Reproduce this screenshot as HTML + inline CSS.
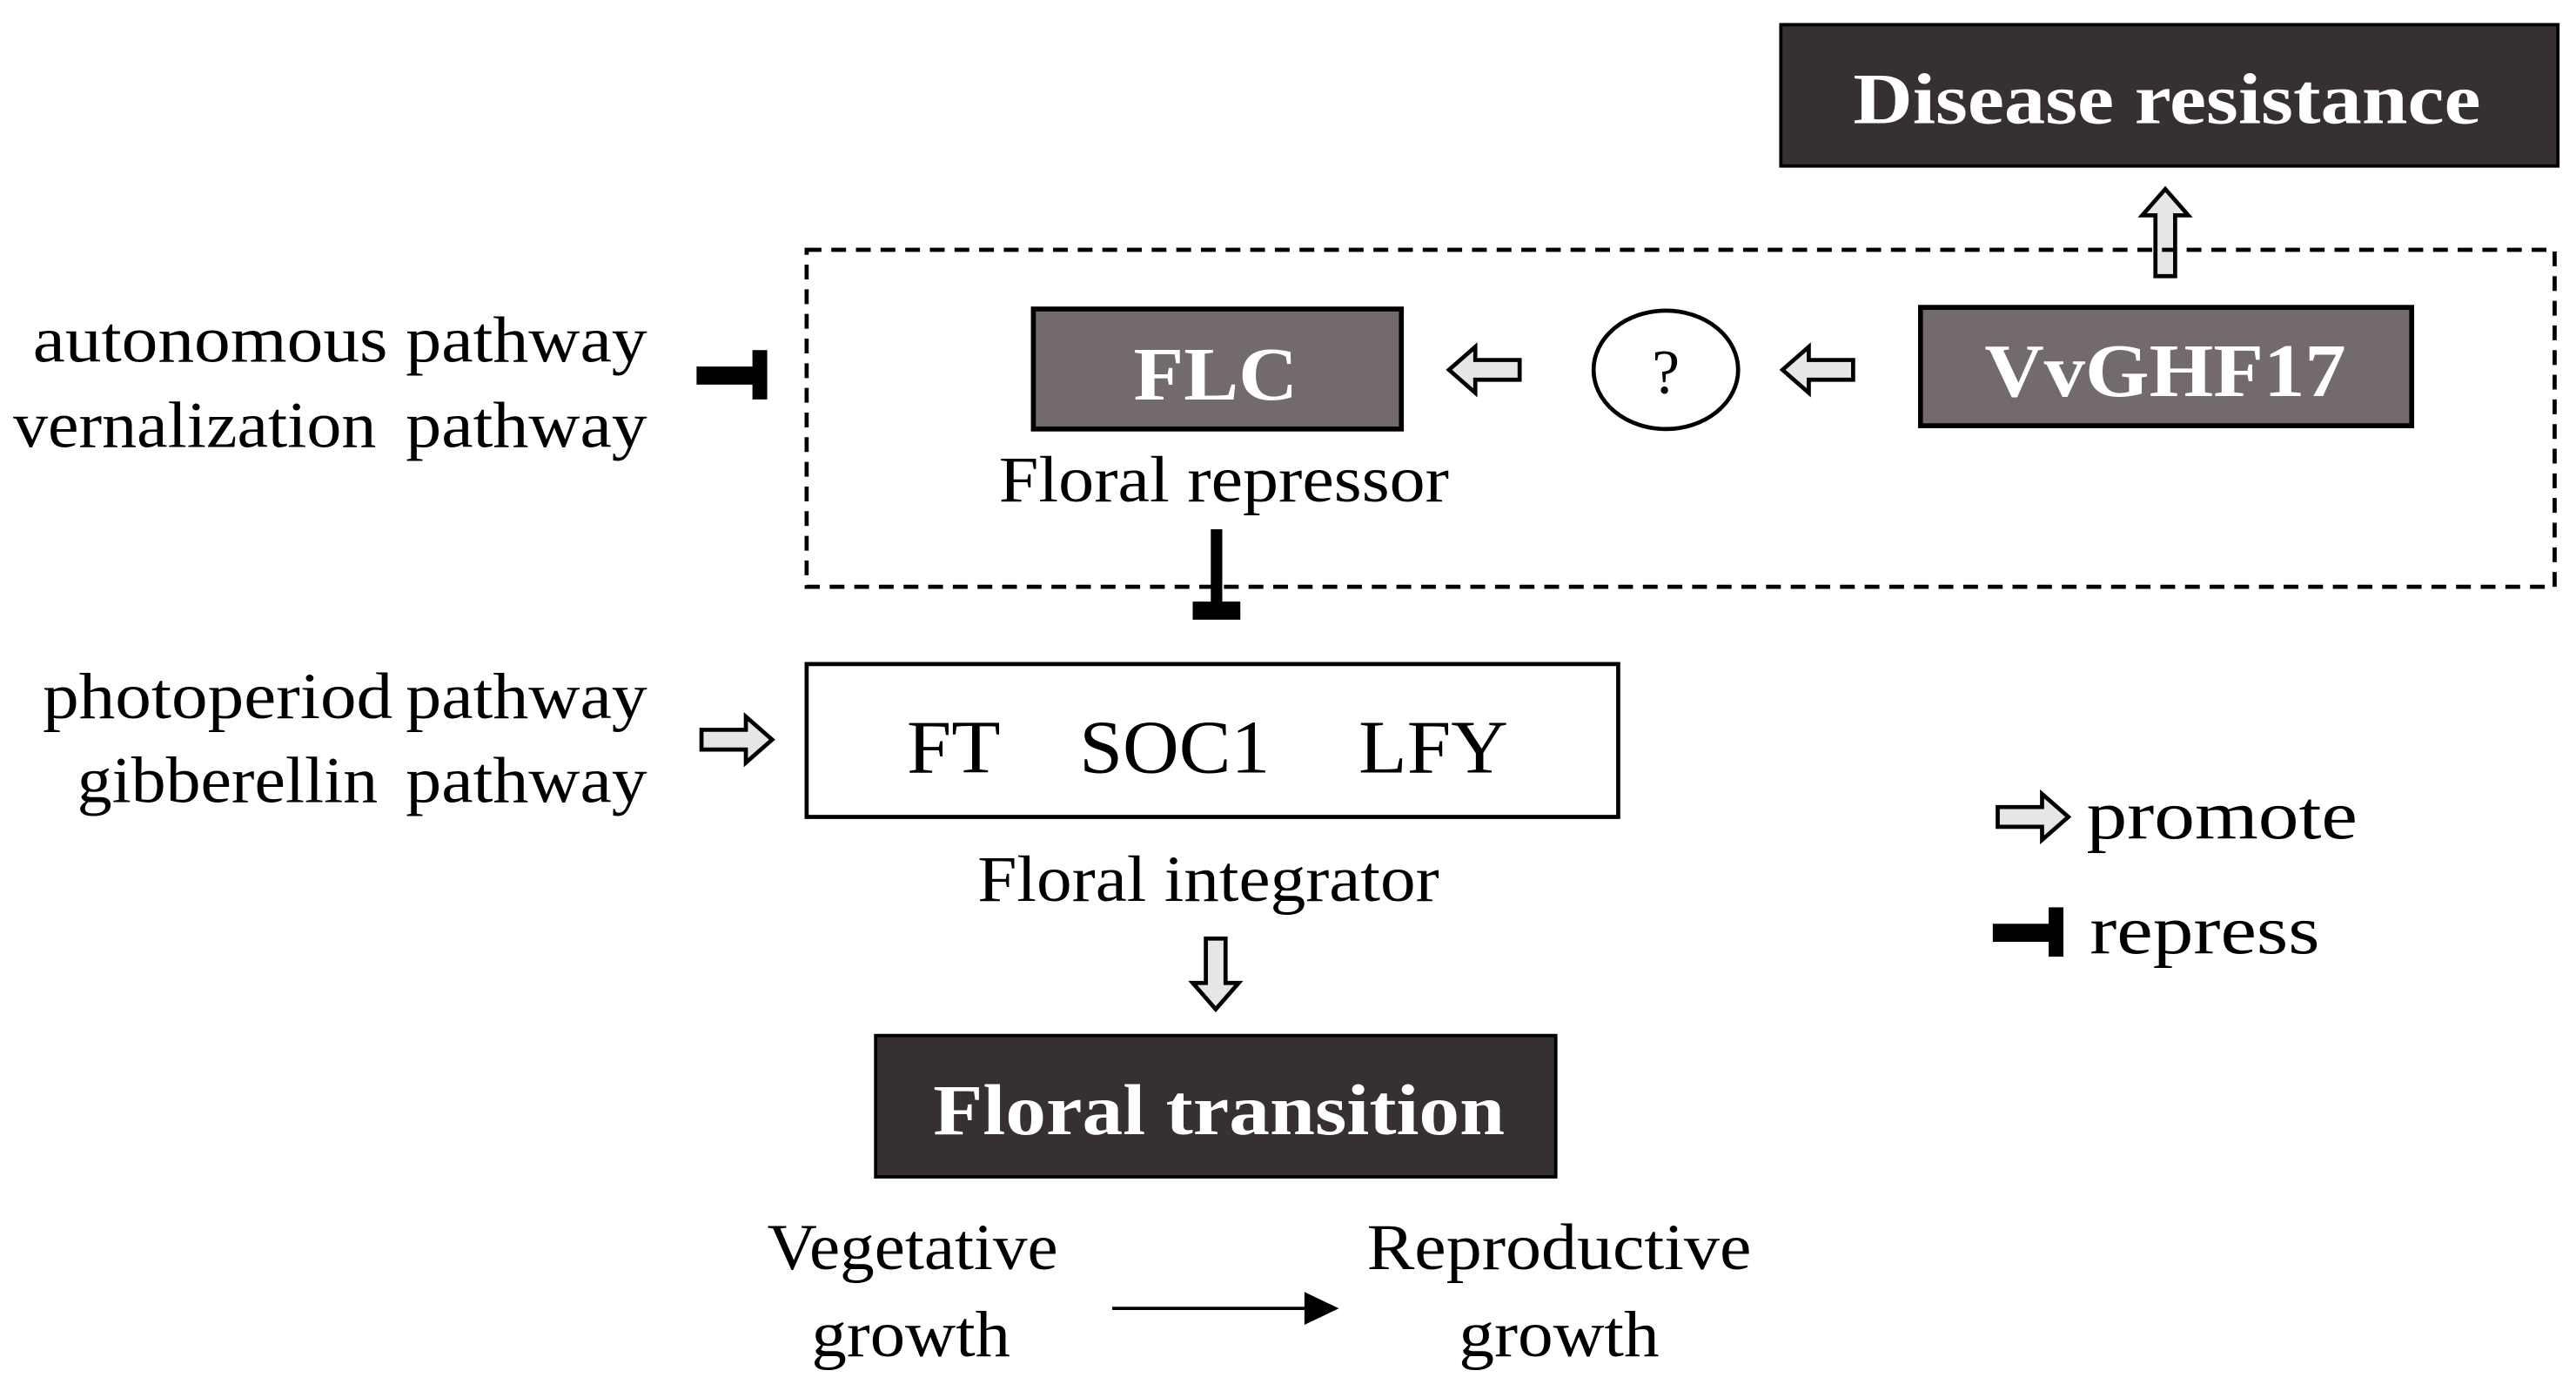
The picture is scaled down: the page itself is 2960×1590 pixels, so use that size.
<!DOCTYPE html>
<html><head><meta charset="utf-8"><style>
html,body{margin:0;padding:0;background:#fff;}
svg{display:block;}
text{font-family:"Liberation Serif",serif;}
</style></head><body>
<svg width="2960" height="1590" viewBox="0 0 1568 842" preserveAspectRatio="none" xmlns="http://www.w3.org/2000/svg">
<defs>
<path id="ar" d="M0,-6 L27,-6 L27,-14 L43,0 L27,14 L27,6 L0,6 Z" fill="#e6e6e6" stroke="#000" stroke-width="2.5" stroke-linejoin="miter"/>
<path id="arl" d="M0,-6 L37,-6 L37,-14 L53,0 L37,14 L37,6 L0,6 Z" fill="#e6e6e6" stroke="#000" stroke-width="2.5" stroke-linejoin="miter"/>
</defs>
<rect x="1084" y="15" width="473" height="86" fill="#363030" stroke="#000" stroke-width="2"/>
<text x="1128" y="75" font-size="44" font-weight="bold" fill="#fff" textLength="382" lengthAdjust="spacingAndGlyphs">Disease resistance</text>
<use href="#arl" transform="translate(1318,168) rotate(-90)"/>
<rect x="491" y="152" width="1064" height="205" fill="none" stroke="#000" stroke-width="2.5" stroke-dasharray="9,6"/>
<rect x="629" y="188" width="224" height="73" fill="#736b6b" stroke="#000" stroke-width="3"/>
<text x="690" y="243" font-size="46" font-weight="bold" fill="#fff" textLength="100" lengthAdjust="spacingAndGlyphs">FLC</text>
<use href="#ar" transform="translate(925,225) rotate(180)"/>
<ellipse cx="1014" cy="225" rx="44" ry="36" fill="#fff" stroke="#000" stroke-width="2.5"/>
<text x="1014" y="239" font-size="38" text-anchor="middle">?</text>
<use href="#ar" transform="translate(1128,225) rotate(180)"/>
<rect x="1169" y="187" width="299" height="72" fill="#736b6b" stroke="#000" stroke-width="3"/>
<text x="1208" y="241" font-size="46" font-weight="bold" fill="#fff" textLength="220" lengthAdjust="spacingAndGlyphs">VvGHF17</text>
<text x="608" y="305" font-size="40" textLength="274" lengthAdjust="spacingAndGlyphs">Floral repressor</text>
<rect x="737" y="322" width="7" height="50" fill="#000"/>
<rect x="726" y="366" width="29" height="11" fill="#000"/>
<text x="20" y="220" font-size="40" textLength="216" lengthAdjust="spacingAndGlyphs">autonomous</text>
<text x="247" y="220" font-size="40" textLength="147" lengthAdjust="spacingAndGlyphs">pathway</text>
<text x="8" y="272" font-size="40" textLength="221" lengthAdjust="spacingAndGlyphs">vernalization</text>
<text x="247" y="272" font-size="40" textLength="147" lengthAdjust="spacingAndGlyphs">pathway</text>
<rect x="424" y="223" width="36" height="11" fill="#000"/>
<rect x="458" y="213" width="9" height="30" fill="#000"/>
<text x="26" y="437" font-size="40" textLength="213" lengthAdjust="spacingAndGlyphs">photoperiod</text>
<text x="247" y="437" font-size="40" textLength="147" lengthAdjust="spacingAndGlyphs">pathway</text>
<text x="47" y="488" font-size="40" textLength="183" lengthAdjust="spacingAndGlyphs">gibberellin</text>
<text x="247" y="488" font-size="40" textLength="147" lengthAdjust="spacingAndGlyphs">pathway</text>
<use href="#ar" transform="translate(427,450)"/>
<rect x="491" y="404" width="494" height="93" fill="#fff" stroke="#000" stroke-width="2.5"/>
<text x="552" y="470" font-size="46" textLength="57" lengthAdjust="spacingAndGlyphs">FT</text>
<text x="657" y="470" font-size="46" textLength="116" lengthAdjust="spacingAndGlyphs">SOC1</text>
<text x="827" y="470" font-size="46" textLength="91" lengthAdjust="spacingAndGlyphs">LFY</text>
<text x="595" y="548" font-size="40" textLength="281" lengthAdjust="spacingAndGlyphs">Floral integrator</text>
<use href="#ar" transform="translate(740,571) rotate(90)"/>
<rect x="533" y="630" width="414" height="86" fill="#363030" stroke="#000" stroke-width="2"/>
<text x="568" y="690" font-size="44" font-weight="bold" fill="#fff" textLength="348" lengthAdjust="spacingAndGlyphs">Floral transition</text>
<text x="467" y="772" font-size="40" textLength="177" lengthAdjust="spacingAndGlyphs">Vegetative</text>
<text x="494" y="825" font-size="40" textLength="121" lengthAdjust="spacingAndGlyphs">growth</text>
<text x="832" y="772" font-size="40" textLength="234" lengthAdjust="spacingAndGlyphs">Reproductive</text>
<text x="888" y="825" font-size="40" textLength="122" lengthAdjust="spacingAndGlyphs">growth</text>
<line x1="677" y1="796" x2="796" y2="796" stroke="#000" stroke-width="2"/>
<polygon points="794,786 815,796 794,806" fill="#000"/>
<use href="#ar" transform="translate(1216,497)"/>
<text x="1270" y="510" font-size="42" textLength="165" lengthAdjust="spacingAndGlyphs">promote</text>
<rect x="1213" y="562" width="36" height="11" fill="#000"/>
<rect x="1247" y="552" width="9" height="30" fill="#000"/>
<text x="1272" y="580" font-size="42" textLength="140" lengthAdjust="spacingAndGlyphs">repress</text>
</svg>
</body></html>
